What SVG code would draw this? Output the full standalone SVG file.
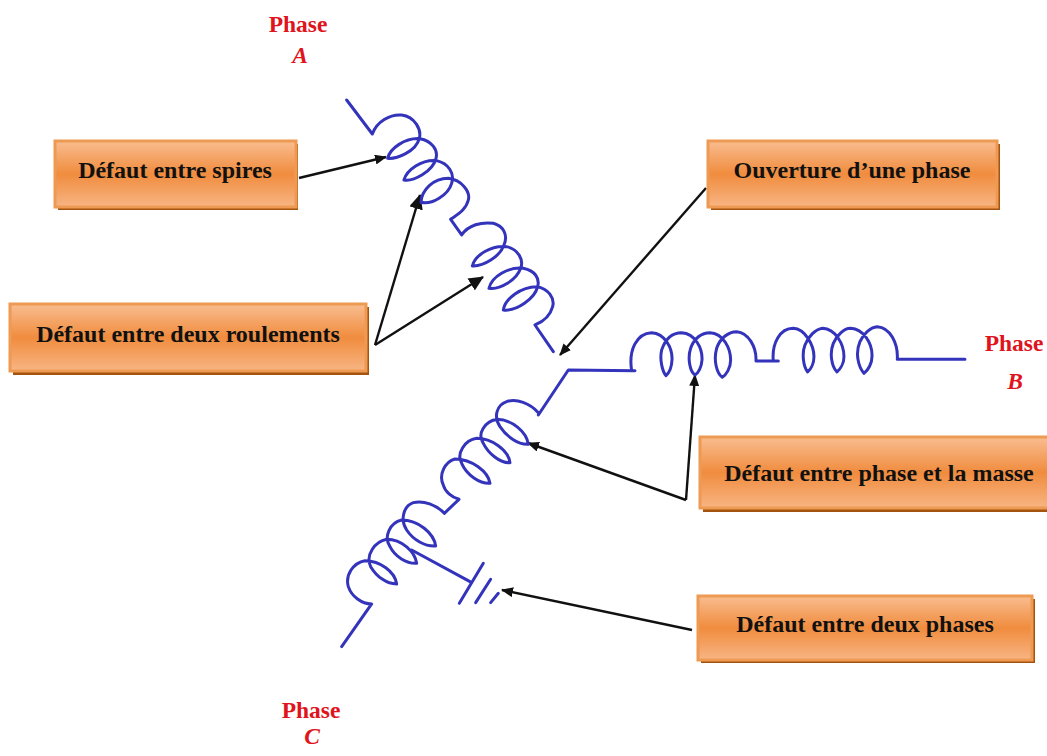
<svg xmlns="http://www.w3.org/2000/svg" width="1047" height="756" viewBox="0 0 1047 756">
<style>
.coil{fill:none;stroke:#3333bb;stroke-width:9;stroke-linejoin:round;stroke-linecap:round}
.ar{stroke:#111;stroke-width:2.4;fill:none}
.box{fill:url(#g);stroke:#ee9a52;stroke-width:3}
.sh{fill:#a5540f}
.t{font-family:"Liberation Serif",serif;font-weight:bold;font-size:24px;fill:#111;text-anchor:middle}
.p{font-family:"Liberation Serif",serif;font-weight:bold;font-size:23.5px;fill:#e0141c;text-anchor:middle}
.i{font-style:italic}
</style>
<defs>
<linearGradient id="g" x1="0" y1="0" x2="0" y2="1"><stop offset="0" stop-color="#f9bd90"/><stop offset=".5" stop-color="#f08c3e"/><stop offset="1" stop-color="#f8b584"/></linearGradient>
<marker id="big" markerWidth="16" markerHeight="14" refX="14" refY="7" orient="auto" markerUnits="userSpaceOnUse"><path d="M0,0L15,7L0,14z" fill="#111"/></marker>
<marker id="sm" markerWidth="12" markerHeight="10" refX="11" refY="5" orient="auto" markerUnits="userSpaceOnUse"><path d="M0,0L12,5L0,10z" fill="#111"/></marker>
</defs>
<g id="connectors">
<path class="ar" marker-end="url(#sm)" d="M299,178L386,157"/>
<path class="ar" marker-end="url(#big)" d="M375,345L420,195"/>
<path class="ar" marker-end="url(#big)" d="M375,345L483,277"/>
<path class="ar" marker-end="url(#sm)" d="M706,188L560,355"/>
<path class="ar" marker-end="url(#sm)" d="M686,500L695,375"/>
<path class="ar" marker-end="url(#sm)" d="M686,500L528,443"/>
<path class="ar" marker-end="url(#sm)" d="M692,630L502,590"/>
</g>
<g id="coil-a" transform="translate(340,90) scale(.3333)">
<path class="coil" d="M20,30L97,132C110,95 150,72 185,75C225,80 245,120 238,145C228,185 170,207 143,205C150,175 195,143 240,146C275,152 295,180 288,205C278,245 220,275 192,270C200,240 245,208 290,212C325,220 345,250 335,280C325,315 275,345 243,337C245,300 280,265 325,265C365,270 392,305 385,330C378,360 350,375 332,388L365,435C385,405 425,395 460,400C490,408 505,435 492,465C480,500 430,530 397,528C405,495 455,465 500,470C535,478 552,510 542,535C530,570 480,600 447,595C455,560 505,530 550,535C585,542 600,565 593,590C585,625 530,665 490,660C495,625 545,590 590,590C625,595 645,625 638,650C630,680 610,695 585,705L640,785"/>
</g>
<g id="coil-c" transform="translate(330,380) scale(.3333)">
<path class="coil" d="M625,98C600,70 560,55 530,65C500,75 490,110 510,140C530,170 565,195 595,193C590,155 545,118 500,118C465,125 440,160 460,190C475,220 510,250 540,248C535,210 485,175 440,175C405,180 378,220 395,250C410,285 450,312 480,310C475,275 425,237 375,237C345,245 325,285 340,315C345,335 365,352 387,358L343,400C320,375 280,360 250,368C220,378 210,420 230,450C250,480 285,500 317,498C312,460 265,420 215,420C180,428 160,470 180,500C195,530 230,552 260,550C255,515 215,478 170,478C135,485 105,525 122,560C140,590 170,612 200,612C195,575 150,542 105,542C70,548 45,585 55,620C65,650 95,672 125,672L35,800"/>
<path class="coil" d="M245,510L420,605M460,550L388,670M482,598L437,668M505,640L482,668"/>
</g>
<g id="coil-b" transform="translate(540,310) scale(.3333)">
<path class="coil" d="M-5,315L85,180L285,182M275,182C265,120 290,70 335,68C375,70 398,115 396,150C395,170 388,188 378,197C368,185 358,150 365,120C375,90 395,68 425,68C465,70 488,115 486,150C485,170 475,190 465,195C450,185 442,145 452,115C462,85 485,68 510,68C550,70 572,115 572,150C572,175 558,195 547,202C530,190 520,150 530,115C540,85 565,65 590,65C625,68 650,110 648,153L715,153M700,153C695,100 720,55 760,55C795,57 822,105 822,140C822,160 812,178 803,186C790,170 785,130 795,105C805,80 825,58 848,55C885,57 912,100 912,140C912,160 900,178 891,186C875,170 868,130 880,100C890,78 910,55 932,55C970,57 998,100 996,140C996,160 985,180 972,190C955,170 945,130 960,95C970,72 990,52 1012,50C1050,52 1075,100 1072,148L1275,148"/>
</g>
<g id="box-spires"><rect class="sh" x="58" y="144" width="240" height="66"/><rect class="box" x="55" y="141" width="241" height="66"/><text class="t" x="175" y="178">Défaut entre spires</text></g>
<g id="box-roulements"><rect class="sh" x="13" y="307" width="356" height="68"/><rect class="box" x="10" y="304" width="356" height="67"/><text class="t" x="188" y="342">Défaut entre deux roulements</text></g>
<g id="box-ouverture"><rect class="sh" x="711" y="144" width="289" height="66"/><rect class="box" x="708" y="141" width="289" height="66"/><text class="t" x="852" y="178">Ouverture d’une phase</text></g>
<g id="box-masse"><rect class="sh" x="703" y="440" width="344" height="72"/><rect class="box" x="700" y="437" width="349" height="71"/><text class="t" x="879" y="481">Défaut entre phase et la masse</text></g>
<g id="box-phases"><rect class="sh" x="701" y="599" width="334" height="64"/><rect class="box" x="698" y="596" width="334" height="64"/><text class="t" x="865" y="632">Défaut entre deux phases</text></g>
<g id="labels">
<text class="p" x="298" y="32">Phase</text><text class="p i" x="300" y="63">A</text>
<text class="p" x="1014" y="351">Phase</text><text class="p i" x="1015" y="389">B</text>
<text class="p" x="311" y="718">Phase</text><text class="p i" x="312" y="744">C</text>
</g>
</svg>
